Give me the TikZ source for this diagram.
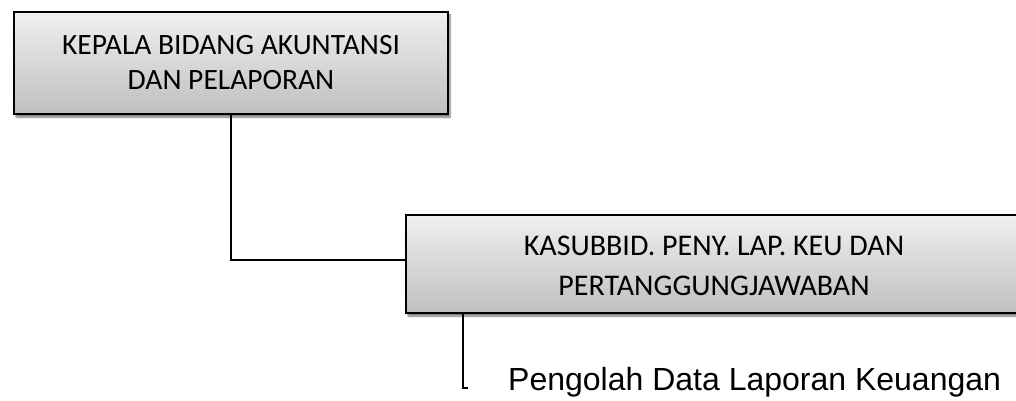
\documentclass[tikz,border=0pt]{standalone}
\usepackage{fontspec}
\setmainfont{Carlito}
\newfontfamily\arialfont{Liberation Sans}
\usetikzlibrary{shadows.blur}
\begin{document}
\begin{tikzpicture}[x=1pt,y=-1pt,
  orgbox/.style={draw=black, line width=1.3pt, top color=gray!12, bottom color=gray!50,
    blur shadow={shadow xshift=2pt, shadow yshift=-3pt, shadow blur steps=6, shadow opacity=55}},
  link/.style={draw=black, line width=1.3pt}]
\useasboundingbox (0,0) rectangle (1016,401);
\begin{scope}
\clip (0,0) rectangle (1016,401);
\path[orgbox] (14,12) rectangle (448,114);
\coordinate (b1s) at (231,114);
\path[orgbox] (406,215) rectangle (1022,313);
\coordinate (b2w) at (406,260);
\coordinate (b2s) at (463,313);
\end{scope}
\node[align=center, inner sep=0pt, font=\fontsize{29.5}{35}\selectfont] (t1) at (231,63) {KEPALA BIDANG AKUNTANSI\\DAN PELAPORAN};
\node[align=center, inner sep=0pt, font=\fontsize{30}{40}\selectfont] (t2) at (714,266) {KASUBBID. PENY. LAP. KEU DAN\\PERTANGGUNGJAWABAN};
\coordinate (tk) at (468,388);
\node[anchor=base west, inner sep=0pt, font=\arialfont\fontsize{32}{36}\selectfont] (t3) at (508,390) {Pengolah Data Laporan Keuangan};
\draw[link] (b1s) |- (b2w);
\draw[link] (b2s) |- (tk);
\end{tikzpicture}
\end{document}
